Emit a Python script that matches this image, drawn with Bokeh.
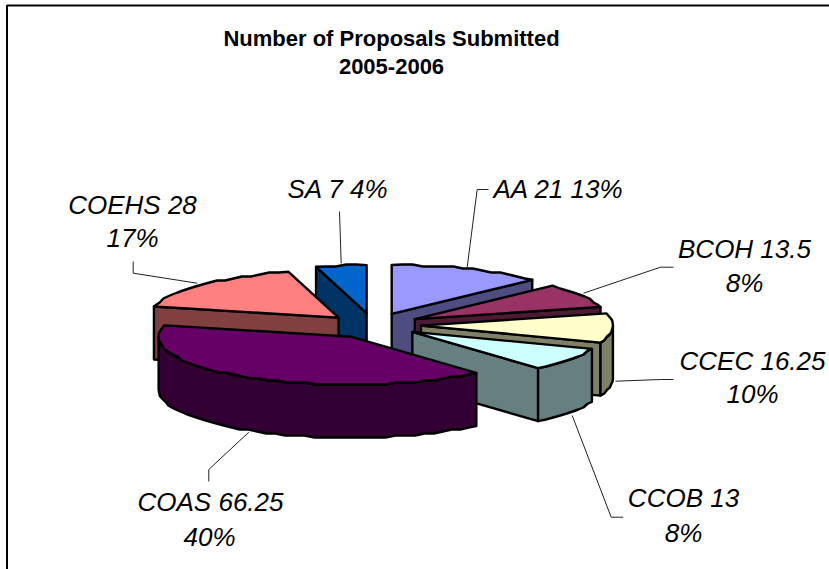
import math
from bokeh.plotting import figure
from bokeh.models import Range1d, ColumnDataSource
from bokeh.core.properties import value
from bokeh.embed import file_html
from bokeh.resources import INLINE

# --- data -------------------------------------------------------------
categories = ["AA", "BCOH", "CCEC", "CCOB", "COAS", "COEHS", "SA"]
proposals = [21, 13.5, 16.25, 13, 66.25, 28, 7]
percents = ["13%", "8%", "10%", "8%", "40%", "17%", "4%"]
top_colors = ["#9999FF", "#993366", "#FFFFCC", "#CCFFFF", "#660066", "#FF8080", "#0066CC"]
side_colors = ["#4D4D80", "#4D1A33", "#808066", "#668080", "#330033", "#804040", "#003366"]
title_lines = ["Number of Proposals Submitted", "2005-2006"]

# --- layout (pixels in the picture) ------------------------------------
W, H = 829, 569
CX, CY = 372.5, 324.5
TILT = 0.25
DEPTH = 53.0
GRID = 2.0
radii = [196, 192, 192, 192, 192, 190, 192]
explode = [48, 48, 48, 48, 43, 48, 48]
nudge_y = [0, 0, 0, 0, 2.5, 1, 0]

label_pos = {
    "AA": [(558, 188)],
    "BCOH": [(744, 248), (744, 282)],
    "CCEC": [(752, 360), (752, 393)],
    "CCOB": [(683, 497), (683, 532)],
    "COAS": [(210, 501), (209, 536)],
    "COEHS": [(132, 204), (132, 237)],
    "SA": [(337.5, 188)],
}
leaders = [
    [(339, 211), (340.7, 263)],
    [(488, 189), (476.7, 189), (466.7, 266.7)],
    [(673, 266.7), (660, 266.7), (583, 292.7)],
    [(673, 379), (660, 379), (615, 380.7)],
    [(132.7, 261), (132.7, 272.7), (196.7, 282.7)],
    [(208.3, 481), (208.3, 469), (248.3, 431.7)],
    [(622.7, 516.7), (610.7, 516.7), (571.7, 415)],
]

p = figure(width=W, height=H, x_range=Range1d(0, W), y_range=Range1d(H, 0),
           output_backend="svg", toolbar_location=None, min_border=0,
           x_axis_location=None, y_axis_location=None,
           background_fill_color="white", border_fill_color="white")
p.grid.visible = False
p.outline_line_color = None
p.styles = {"position": "absolute", "left": "0px", "top": "0px"}

# frame (runs off the picture at right and bottom)
p.line([6.5, 6.5, W], [H, 5, 5], line_color="black", line_width=2)


def rim(ax, ay, r, deg):
    t = math.radians(deg)
    return ax + r * math.sin(t), ay - r * TILT * math.cos(t)


def arc(ax, ay, r, a0, a1):
    """Rim as the source's coarse polygon: interior points snap to a grid."""
    n = max(2, int(abs(a1 - a0) / 3.0) + 1)
    xs, ys = [], []
    for i in range(n):
        x, y = rim(ax, ay, r, a0 + (a1 - a0) * i / (n - 1))
        if 0 < i < n - 1:
            y = round(y / GRID) * GRID
        xs.append(x)
        ys.append(y)
    return xs, ys


def face(xs, ys, color):
    p.patch(xs, ys, fill_color=color, line_color="black", line_width=2.4, line_join="round")


total = sum(proposals)
angles = []
run = 0.0
for v in proposals:
    angles.append((run / total * 360, (run + v) / total * 360))
    run += v

# back-to-front painter order: SA, COEHS, then clockwise to COAS
order = [6, 5, 0, 1, 2, 3, 4]
for i in order:
    a0, a1 = angles[i]
    r = radii[i]
    mid = math.radians((a0 + a1) / 2)
    ax = CX + explode[i] * math.sin(mid)
    ay = CY - explode[i] * TILT * math.cos(mid) + nudge_y[i]
    # radial faces turned to the viewer
    for a, visible in ((a0, math.sin(math.radians(a0)) < 0), (a1, math.sin(math.radians(a1)) > 0)):
        if visible:
            x, y = rim(ax, ay, r, a)
            face([ax, x, x, ax], [ay, y, y + DEPTH, ay + DEPTH], side_colors[i])
    # outer wall, only its front half
    lo, hi = max(a0, 90), min(a1, 270)
    if lo < hi:
        xs, ys = arc(ax, ay, r, lo, hi)
        face(xs + xs[::-1], ys + [q + DEPTH for q in ys[::-1]], side_colors[i])
    # top
    xs, ys = arc(ax, ay, r, a0, a1)
    face([ax] + xs, [ay] + ys, top_colors[i])

# leader lines
for seg in leaders:
    p.line([q[0] for q in seg], [q[1] for q in seg], line_color="#222222", line_width=1)

# data labels
tx, ty, tt = [], [], []
for c, v, pc in zip(categories, proposals, percents):
    pos = label_pos[c]
    first = f"{c} {v:g}"
    if len(pos) == 1:
        tx.append(pos[0][0]); ty.append(pos[0][1]); tt.append(f"{first} {pc}")
    else:
        tx += [pos[0][0], pos[1][0]]; ty += [pos[0][1], pos[1][1]]; tt += [first, pc]
p.text(x="x", y="y", text="t", source=ColumnDataSource(dict(x=tx, y=ty, t=tt)),
       text_font=value("Liberation Sans"), text_font_style="italic", text_font_size="26px",
       text_align="center", text_baseline="middle", text_color="black")

# title
p.text(x=[391, 391], y=[38, 66], text=title_lines,
       text_font=value("Liberation Sans"), text_font_style="bold", text_font_size="22px",
       text_align="center", text_baseline="middle", text_color="black")

open("out.html", "w").write(file_html(p, INLINE))
